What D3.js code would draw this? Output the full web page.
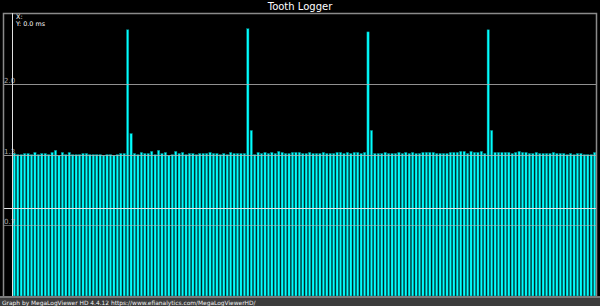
<!DOCTYPE html>
<html>
<head>
<meta charset="utf-8">
<script src="https://cdn.jsdelivr.net/npm/d3@7"></script>
<style>
    body { margin: 0; background: #000; }
    svg { display: block; }
</style>
</head>
<body>
<div id="chart"></div>
<script>
// colours
const BG_COLOR = "#000000";
const BAR_COLOR = "#00ffff";
const BAR_EDGE = "#007070";
const FRAME_COLOR = "#8a8a8a";
const GRID_COLOR = "#b4b4b4";
const FOOTER_BG = "#3c3c3c";

const width = 600, height = 306;
const margin = { left: 13, right: 4, top: 13, bottom: 10 };

// tooth times (ms), one per tooth
const normal0 = [1.36, 1.35, 1.35, 1.36, 1.36, 1.35, 1.37, 1.35, 1.36, 1.36, 1.35, 1.37, 1.39, 1.34, 1.37, 1.35, 1.37, 1.35,
    1.35, 1.35, 1.36, 1.36, 1.35, 1.35, 1.35, 1.35, 1.34, 1.35, 1.35, 1.34, 1.35, 1.36, 1.36];
const gap0 = [2.54, 1.55];
const normal1 = [1.36, 1.35, 1.37, 1.36, 1.36, 1.38, 1.35, 1.39, 1.36, 1.37, 1.34, 1.35, 1.38, 1.36, 1.37, 1.35, 1.36, 1.36,
    1.35, 1.36, 1.36, 1.36, 1.37, 1.36, 1.36, 1.35, 1.36, 1.35, 1.37, 1.36, 1.36, 1.36, 1.36];
const gap1 = [2.55, 1.58];
const normal2 = [1.35, 1.37, 1.36, 1.37, 1.36, 1.37, 1.36, 1.38, 1.37, 1.36, 1.36, 1.37, 1.37, 1.37, 1.36, 1.36, 1.37, 1.36,
    1.36, 1.36, 1.37, 1.36, 1.36, 1.36, 1.37, 1.37, 1.36, 1.37, 1.36, 1.37, 1.37, 1.36, 1.37];
const gap2 = [2.52, 1.58];
const normal3 = [1.36, 1.36, 1.36, 1.37, 1.36, 1.36, 1.36, 1.37, 1.36, 1.37, 1.36, 1.37, 1.36, 1.36, 1.37, 1.37, 1.37, 1.37,
    1.36, 1.36, 1.36, 1.36, 1.37, 1.37, 1.37, 1.38, 1.38, 1.36, 1.38, 1.37, 1.37, 1.38, 1.36];
const gap3 = [2.54, 1.58];
const normal4 = [1.37, 1.37, 1.37, 1.37, 1.37, 1.36, 1.37, 1.38, 1.37, 1.37, 1.36, 1.36, 1.37, 1.36, 1.36, 1.36, 1.36, 1.37,
    1.36, 1.36, 1.36, 1.35, 1.36, 1.35, 1.36, 1.36, 1.35, 1.35, 1.35, 1.37];

const toothTimes = [].concat(normal0, gap0, normal1, gap1, normal2, gap2, normal3, gap3, normal4);

// y axis
const yMax = 2.7;
const yTicks = [0.675, 1.35, 2.025];
const yTickLabels = ["0.7", "1.3", "2.0"];
const markerValue = 0.84;

const titleText = "Tooth Logger";
const cursorLines = ["X:", "Y: 0.0 ms"];
const footerText = "Graph by MegaLogViewer HD 4.4.12 https://www.efianalytics.com/MegaLogViewerHD/";

const plotBottom = height - margin.bottom;

const svg = d3.select("#chart")
    .append("svg")
    .attr("width", width)
    .attr("height", height)
    .style("font-family", "'DejaVu Sans', sans-serif");

svg.append("rect")
    .attr("width", width)
    .attr("height", height)
    .attr("fill", BG_COLOR);

const xScale = d3.scaleBand()
    .domain(d3.range(toothTimes.length))
    .range([margin.left, width - margin.right])
    .paddingInner(0.32)
    .paddingOuter(0.05);

const yScale = d3.scaleLinear()
    .domain([0, yMax])
    .range([plotBottom, margin.top]);

// bars
svg.selectAll(".bar")
    .data(toothTimes)
    .enter()
    .append("rect")
    .attr("class", "bar")
    .attr("x", (d, i) => xScale(i))
    .attr("y", d => yScale(d))
    .attr("width", xScale.bandwidth())
    .attr("height", d => plotBottom - yScale(d))
    .attr("fill", BAR_COLOR)
    .attr("stroke", BAR_EDGE)
    .attr("stroke-width", 0.5);

// grid lines over the bars
svg.selectAll(".grid")
    .data(yTicks)
    .enter()
    .append("line")
    .attr("class", "grid")
    .attr("x1", 3)
    .attr("x2", width - 3)
    .attr("y1", d => Math.round(yScale(d)) + 0.5)
    .attr("y2", d => Math.round(yScale(d)) + 0.5)
    .attr("stroke", GRID_COLOR)
    .attr("stroke-opacity", (d, i) => i === 0 ? 0.55 : 0.8)
    .attr("stroke-width", 1);

svg.append("line")
    .attr("x1", 3)
    .attr("x2", width - 3)
    .attr("y1", Math.round(yScale(markerValue)) + 0.5)
    .attr("y2", Math.round(yScale(markerValue)) + 0.5)
    .attr("stroke", "#e6e6e6")
    .attr("stroke-width", 1);

svg.selectAll(".ylabel")
    .data(yTicks)
    .enter()
    .append("text")
    .attr("class", "ylabel")
    .attr("x", 4)
    .attr("y", d => Math.round(yScale(d)) - 1)
    .attr("fill", "#a8a8a8")
    .attr("font-size", 7)
    .text((d, i) => yTickLabels[i]);

// frame
svg.append("path")
    .attr("d", `M3.5,${plotBottom + 1}V${margin.top + 0.5}H${width - 3.5}V${plotBottom + 1}`)
    .attr("fill", "none")
    .attr("stroke", FRAME_COLOR)
    .attr("stroke-width", 1.5);

svg.append("line")
    .attr("x1", 12.5)
    .attr("x2", 12.5)
    .attr("y1", margin.top)
    .attr("y2", plotBottom)
    .attr("stroke", "#e0e0e0")
    .attr("stroke-width", 1);

// footer
svg.append("rect")
    .attr("x", 0)
    .attr("y", plotBottom)
    .attr("width", width)
    .attr("height", 2)
    .attr("fill", "#7a7a7a");

svg.append("rect")
    .attr("x", 0)
    .attr("y", plotBottom + 2)
    .attr("width", width)
    .attr("height", height - plotBottom - 2)
    .attr("fill", FOOTER_BG);

svg.append("text")
    .attr("x", 2)
    .attr("y", height - 1)
    .attr("fill", "#f0f0f0")
    .attr("font-size", 5.9)
    .text(footerText);

// title and cursor readout
svg.append("text")
    .attr("x", width / 2)
    .attr("y", 10)
    .attr("text-anchor", "middle")
    .attr("fill", "#ffffff")
    .attr("font-size", 10)
    .text(titleText);

svg.selectAll(".cursor")
    .data(cursorLines)
    .enter()
    .append("text")
    .attr("class", "cursor")
    .attr("x", 16)
    .attr("y", (d, i) => 19 + i * 7)
    .attr("fill", "#ffffff")
    .attr("font-size", 6.4)
    .text(d => d);
</script>
</body>
</html>
